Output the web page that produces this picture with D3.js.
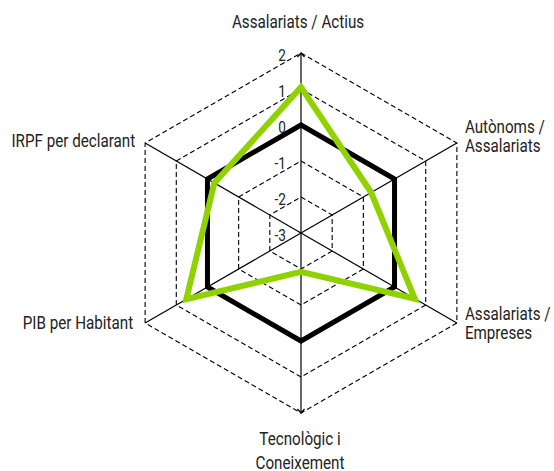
<!DOCTYPE html>
<html><head><meta charset="utf-8">
<script src="https://cdn.jsdelivr.net/npm/d3@7"></script>
<style>
html,body{margin:0;padding:0;background:#fff;}
text{font-family:Roboto,"Liberation Sans",sans-serif;fill:#222;}
</style></head>
<body>
<svg id="c" width="554" height="471"></svg>
<script>
const categories = [["Assalariats / Actius"],["Autònoms /","Assalariats"],["Assalariats /","Empreses"],["Tecnològic i","Coneixement"],["PIB per Habitant"],["IRPF per declarant"]];
const seriesBase = [0, 0, 0, 0, 0, 0];
const seriesTerritori = [1.05, -0.75, 0.65, -1.92, 0.68, -0.22];
const tickValues = [-3, -2, -1, 0, 1, 2];

const svg = d3.select("#c");
const cx = 301, cy = 233, R = 180;
const SX = 0.8; // condensed look
const r = d3.scaleLinear().domain([-3, 2]).range([0, R]);
const n = categories.length;
const ang = d3.scaleLinear().domain([0, n]).range([0, 2 * Math.PI]);
const pt = (i, v) => [cx + r(v) * Math.sin(ang(i)), cy - r(v) * Math.cos(ang(i))];

const g = svg.append("g");
tickValues.filter(t => t > -3).forEach(t => {
  g.append("polygon")
    .attr("points", d3.range(n).map(i => pt(i, t).join(",")).join(" "))
    .attr("fill", "none").attr("stroke", "#000").attr("stroke-width", 1.1)
    .attr("stroke-dasharray", "5,3");
});
d3.range(n).forEach(i => {
  const [x, y] = pt(i, 2);
  g.append("line").attr("x1", cx).attr("y1", cy).attr("x2", x).attr("y2", y)
    .attr("stroke", "#000").attr("stroke-width", 1.2);
});
[[0, -1], [3, 1]].forEach(([i, s]) => {
  const [x, y] = pt(i, 2);
  g.append("path").attr("d", `M${x-3.5},${y - s*4}L${x},${y}L${x+3.5},${y - s*4}`)
    .attr("fill", "none").attr("stroke", "#000").attr("stroke-width", 1.2);
});

const line = d3.lineRadial().angle((d, i) => ang(i)).radius(d => r(d)).curve(d3.curveLinearClosed);
svg.append("path").datum(seriesBase).attr("transform", `translate(${cx},${cy})`)
  .attr("d", line).attr("fill", "none").attr("stroke", "#000").attr("stroke-width", 5)
  .attr("stroke-linejoin", "miter");
svg.append("path").datum(seriesTerritori).attr("transform", `translate(${cx},${cy})`)
  .attr("d", line).attr("fill", "none").attr("stroke", "#8fd200").attr("stroke-width", 6)
  .attr("stroke-linejoin", "miter");

function label(x, y, lines, anchor, size, lh) {
  const t = svg.append("g").attr("transform", `translate(${x},${y}) scale(${SX},1)`)
    .append("text").attr("text-anchor", anchor).attr("font-size", size);
  lines.forEach((s, k) => t.append("tspan").attr("x", 0).attr("y", k * lh).text(s));
}

tickValues.forEach(t => label(cx - 15, cy - r(t) + 8, [String(t)], "end", 17, 0));

const labelOpts = [
  {anchor: "middle", dx: -3, dy: -25, lh: 19},
  {anchor: "start", dx: 8, dy: -10, lh: 19},
  {anchor: "start", dx: 8, dy: -3, lh: 19},
  {anchor: "middle", dx: -1, dy: 32, lh: 24},
  {anchor: "end", dx: -12, dy: 6, lh: 19},
  {anchor: "end", dx: -10, dy: 4, lh: 19}
];
categories.forEach((lines, i) => {
  const [x, y] = pt(i, 2);
  const o = labelOpts[i];
  label(x + o.dx, y + o.dy, lines, o.anchor, 19, o.lh);
});
</script>
</body></html>
